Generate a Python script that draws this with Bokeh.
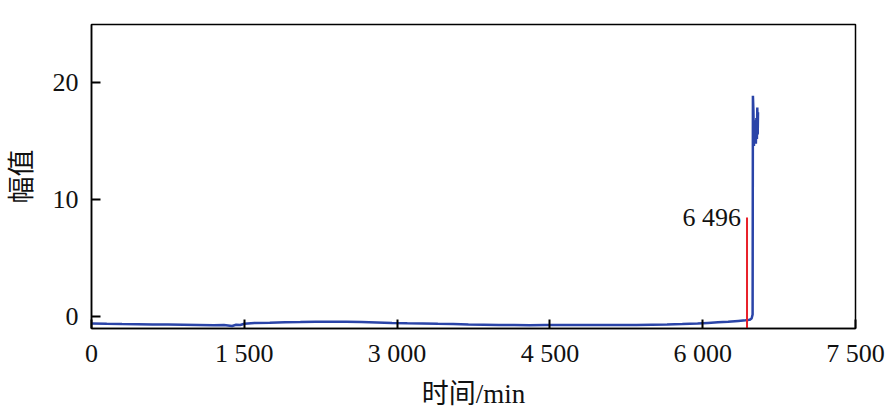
from bokeh.plotting import figure
from bokeh.models import FixedTicker, Range1d, CustomJSTickFormatter
from bokeh.core.properties import value
from bokeh.embed import file_html
from bokeh.resources import INLINE

# data
time_min = [0, 150, 300, 450, 600, 750, 900, 1050, 1200, 1300, 1380, 1420, 1460, 1500, 1600, 1750,
            1900, 2050, 2200, 2350, 2500, 2650, 2800, 2950, 3100, 3250, 3400, 3550, 3700, 3850,
            4000, 4150, 4300, 4450, 4600, 4750, 4900, 5050, 5200, 5350, 5500, 5650, 5800, 5950,
            6050, 6150, 6250, 6350, 6420, 6460, 6480, 6490, 6493, 6498, 6503, 6508, 6513, 6518,
            6522, 6527, 6532, 6536, 6540, 6543]
amplitude = [-0.57, -0.6, -0.62, -0.63, -0.65, -0.66, -0.68, -0.7, -0.72, -0.7, -0.78, -0.68, -0.7, -0.6,
             -0.52, -0.5, -0.47, -0.45, -0.42, -0.42, -0.43, -0.45, -0.48, -0.52, -0.55, -0.57, -0.6, -0.62,
             -0.66, -0.68, -0.7, -0.7, -0.72, -0.7, -0.7, -0.7, -0.71, -0.7, -0.7, -0.7, -0.68, -0.66, -0.62,
             -0.57, -0.52, -0.47, -0.42, -0.35, -0.3, -0.26, -0.15, 0.2, 18.9, 17.6, 14.6, 16.8, 15.0,
             16.4, 14.8, 17.0, 15.2, 17.9, 15.6, 17.5]

marker_x = 6435
marker_top = 8.5
marker_label = "6 496"

x_ticks = [0, 1500, 3000, 4500, 6000, 7500]
y_ticks = [0, 10, 20]

serif = "Liberation Serif"
mixed = "Liberation Serif, Noto Sans CJK SC"

p = figure(frame_width=764, frame_height=304, output_backend="svg", toolbar_location=None,
           x_range=Range1d(0, 7500), y_range=Range1d(-1, 25),
           min_border_left=91, min_border_right=30, min_border_top=24, min_border_bottom=70)

p.line(time_min, amplitude, line_color="#2a44a8", line_width=2.5)
p.segment(x0=[marker_x], y0=[-1], x1=[marker_x], y1=[marker_top], line_color="#e8212a", line_width=2)
p.text(x=[marker_x], y=[marker_top], text=[marker_label], x_offset=-6, text_align="right",
       text_baseline="alphabetic", text_font=value(serif), text_font_size="26px", text_color="#111111")

p.grid.visible = False
p.outline_line_color = "black"
p.outline_line_width = 1.5
p.background_fill_color = "white"
p.border_fill_color = "white"

for ax in (p.xaxis[0], p.yaxis[0]):
    ax.axis_line_color = "black"
    ax.axis_line_width = 1.5
    ax.major_tick_in = 9
    ax.major_tick_out = 0
    ax.major_tick_line_width = 2
    ax.major_tick_line_color = "black"
    ax.minor_tick_line_color = None
    ax.major_label_text_font = serif
    ax.major_label_text_font_size = "26px"
    ax.major_label_text_color = "#111111"
    ax.axis_label_text_font = mixed
    ax.axis_label_text_font_size = "27px"
    ax.axis_label_text_font_style = "normal"
    ax.axis_label_text_color = "#111111"

p.xaxis.ticker = FixedTicker(ticks=x_ticks)
p.yaxis.ticker = FixedTicker(ticks=y_ticks)
p.xaxis.formatter = CustomJSTickFormatter(code="""
const s = Math.round(tick).toString();
return s.length > 3 ? s.slice(0, s.length - 3) + ' ' + s.slice(s.length - 3) : s;
""")
p.xaxis.major_label_standoff = 10
p.yaxis.major_label_standoff = 13
p.xaxis.axis_label = "时间/min"
p.yaxis.axis_label = "幅值"
p.xaxis.axis_label_standoff = 8
p.yaxis.axis_label_standoff = 13

open("out.html", "w").write(file_html(p, INLINE))
